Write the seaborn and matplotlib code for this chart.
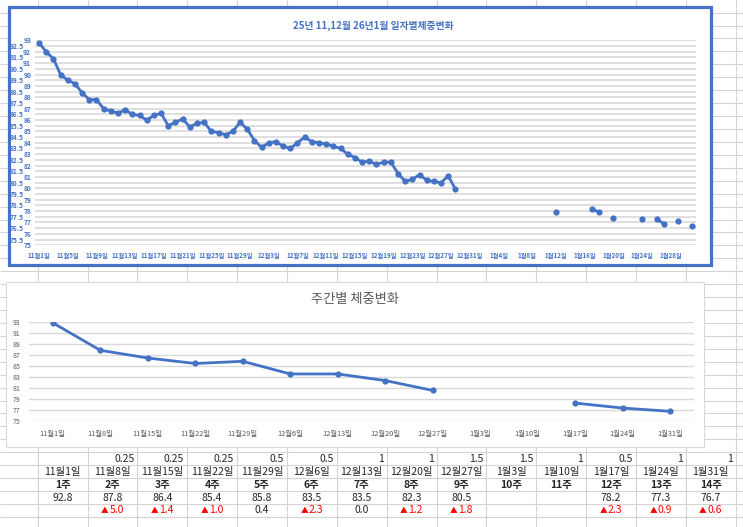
import numpy as np
import pandas as pd
import matplotlib
matplotlib.use('Agg')
import matplotlib.pyplot as plt
from matplotlib.patches import Rectangle
from matplotlib.offsetbox import TextArea, HPacker, AnnotationBbox
import seaborn as sns

sns.set_style('white')
plt.rcParams['font.family'] = ['Noto Sans CJK KR', 'DejaVu Sans']
plt.rcParams['axes.unicode_minus'] = False

BLUE = '#4472C4'
GRID = '#D9D9D9'
SHEET = '#D4D4D4'
W, H = 743, 527

### 일자별 체중 (kg) ###########################################################
nov_weight = [92.8, 92.0, 91.4, 90.0, 89.5, 89.2, 88.4, 87.8, 87.8, 87.0,
              86.8, 86.6, 86.9, 86.5, 86.4, 86.0, 86.4, 86.6, 85.5, 85.8,
              86.1, 85.4, 85.7, 85.8, 85.0, 84.9, 84.7, 85.0, 85.8, 85.2]
dec_weight = [84.2, 83.6, 84.0, 84.1, 83.7, 83.5, 84.0, 84.5, 84.1, 84.0,
              83.9, 83.7, 83.5, 83.0, 82.7, 82.3, 82.4, 82.1, 82.3, 82.3,
              81.3, 80.6, 80.8, 81.2, 80.7, 80.6, 80.5, 81.1, 79.9]
jan_days = [12, 17, 18, 20, 24, 26, 27, 29, 31]
jan_weight = [77.9, 78.2, 77.9, 77.4, 77.3, 77.3, 76.9, 77.1, 76.7]

### 주간별 체중 ################################################################
week_dates = ['11월1일', '11월8일', '11월15일', '11월22일', '11월29일', '12월6일',
              '12월13일', '12월20일', '12월27일', '1월3일', '1월10일', '1월17일',
              '1월24일', '1월31일']
week_names = ['1주', '2주', '3주', '4주', '5주', '6주', '7주', '8주', '9주',
              '10주', '11주', '12주', '13주', '14주']
week_weight = [92.8, 87.8, 86.4, 85.4, 85.8, 83.5, 83.5, 82.3, 80.5,
               np.nan, np.nan, 78.2, 77.3, 76.7]
week_step = ['', '0.25', '0.25', '0.25', '0.5', '0.5', '1', '1', '1.5', '1.5',
             '1', '0.5', '1', '1']

# 데이터 정리
start = pd.Timestamp('2025-11-01')
dates = (list(pd.date_range('2025-11-01', periods=len(nov_weight)))
         + list(pd.date_range('2025-12-01', periods=len(dec_weight)))
         + [pd.Timestamp(2026, 1, d) for d in jan_days])
daily = pd.DataFrame({'date': dates, 'weight': nov_weight + dec_weight + jan_weight})
daily['day'] = (daily['date'] - start).dt.days
daily['seg'] = (daily['day'].diff() != 1).cumsum()

weekly = pd.DataFrame({'pos': range(len(week_dates)), 'weight': week_weight})
weekly = weekly.dropna()
weekly['seg'] = (weekly['pos'].diff() != 1).cumsum()

fig = plt.figure(figsize=(W / 100, H / 100), dpi=100)

def px_axes(l, t, r, b):
    return fig.add_axes([l / W, 1 - b / H, (r - l) / W, (b - t) / H])

# 엑셀 시트 배경
bg = fig.add_axes([0, 0, 1, 1])
bg.set_xlim(0, W)
bg.set_ylim(H, 0)
bg.axis('off')
row_y = [12.93 * k - 0.3 for k in range(1, 42)]
col_x = [37.7 + 49.85 * k for k in range(0, 15)]
bg.hlines(row_y, 0, W, color=SHEET, lw=0.8, zorder=0)
bg.vlines(col_x, 0, H, color=SHEET, lw=0.8, zorder=0)

bg.add_patch(Rectangle((8.5, 6.5), 702.5, 258, facecolor='white',
                       edgecolor=BLUE, lw=2.3, zorder=1))
bg.add_patch(Rectangle((6, 282), 698, 165, facecolor='white',
                       edgecolor=GRID, lw=0.8, zorder=1))

### 위 차트: 일자별 ############################################################
ax1 = px_axes(35.4, 40.4, 696, 245.2)
ax1.set_facecolor('none')
sns.lineplot(data=daily, x='day', y='weight', units='seg', estimator=None,
             color=BLUE, lw=2, marker='o', markersize=4.5, markeredgewidth=0,
             legend=False, ax=ax1)
ax1.set_xlim(-0.5, 91.5)
ax1.set_ylim(75, 93)
# 정수 눈금과 0.5 눈금을 두 줄로 엇갈리게 표시
y_major = np.arange(75, 93.01, 1.0)
y_minor = np.arange(75.5, 93, 1.0)
ax1.set_yticks(y_major)
ax1.set_yticklabels([f'{v:g}' for v in y_major], fontsize=4.8, color=BLUE,
                    fontweight='bold')
ax1.set_yticks(y_minor, minor=True)
ax1.set_yticklabels([f'{v:g}' for v in y_minor], minor=True, fontsize=4.8,
                    color=BLUE, fontweight='bold')
tick_dates = pd.date_range('2025-11-01', '2026-01-28', freq='4D')
ax1.set_xticks([(d - start).days for d in tick_dates])
ax1.set_xticklabels([f'{d.month}월{d.day}일' for d in tick_dates], fontsize=4.5,
                    color=BLUE, fontweight='bold')
ax1.tick_params(length=0, axis='x', pad=5)
ax1.tick_params(length=0, axis='y', which='major', pad=3)
ax1.tick_params(length=0, axis='y', which='minor', pad=8.5)
ax1.grid(axis='y', which='both', color=GRID, lw=1.2)
ax1.set_axisbelow(True)
ax1.set_xlabel('')
ax1.set_ylabel('')
sns.despine(ax=ax1, left=True, bottom=True)
bg.text(373, 26, '25년 11,12월 26년1월 일자별체중변화', ha='center', va='center',
        fontsize=7, fontweight='bold', color=BLUE, zorder=3)

### 아래 차트: 주간별 ##########################################################
ax2 = px_axes(29, 321.7, 694, 420.7)
ax2.set_facecolor('none')
sns.lineplot(data=weekly, x='pos', y='weight', units='seg', estimator=None,
             color=BLUE, lw=2, marker='o', markersize=4.5, markeredgewidth=0,
             legend=False, ax=ax2)
ax2.set_xlim(-0.5, len(week_dates) - 0.5)
ax2.set_ylim(75, 93)
ax2.set_yticks(np.arange(75, 94, 2))
ax2.set_yticklabels([str(v) for v in range(75, 94, 2)], fontsize=5, color='#595959')
ax2.set_xticks(range(len(week_dates)))
ax2.set_xticklabels(week_dates, fontsize=5.3, color='#595959')
ax2.tick_params(length=0, axis='x', pad=7)
ax2.tick_params(length=0, axis='y', pad=6)
ax2.grid(axis='y', color=GRID, lw=1)
ax2.set_axisbelow(True)
ax2.set_xlabel('')
ax2.set_ylabel('')
sns.despine(ax=ax2, left=True, bottom=True)
bg.text(355, 300, '주간별 체중변화', ha='center', va='center', fontsize=9.5,
        color='#595959', zorder=3)

### 표 ########################################################################
ry = [(row_y[k] + row_y[k + 1]) / 2 for k in range(34, 39)]
prev = None
for i in range(len(week_dates)):
    left = col_x[i]
    right = col_x[i + 1]
    cx = (left + right) / 2
    bg.text(right - 3, ry[0], week_step[i], ha='right', va='center', fontsize=7.5)
    bg.text(cx, ry[1], week_dates[i], ha='center', va='center', fontsize=7.5)
    bg.text(cx, ry[2], week_names[i], ha='center', va='center', fontsize=7.5,
            fontweight='bold')
    w = week_weight[i]
    if np.isnan(w):
        continue
    bg.text(cx, ry[3], f'{w:.1f}', ha='center', va='center', fontsize=7.5)
    if prev is not None:
        diff = round(prev - w, 1)
        if diff > 0:
            box = HPacker(children=[
                TextArea('▲', textprops=dict(fontsize=5.5, color='red')),
                TextArea(f'{diff:.1f}', textprops=dict(fontsize=7.5, color='red'))],
                sep=0.5, pad=0, align='baseline')
            bg.add_artist(AnnotationBbox(box, (cx, ry[4]), frameon=False,
                                         box_alignment=(0.5, 0.5), pad=0))
        else:
            bg.text(cx, ry[4], f'{abs(diff):.1f}', ha='center', va='center',
                    fontsize=7.5)
    prev = w

fig.savefig('out.png', dpi=100)
